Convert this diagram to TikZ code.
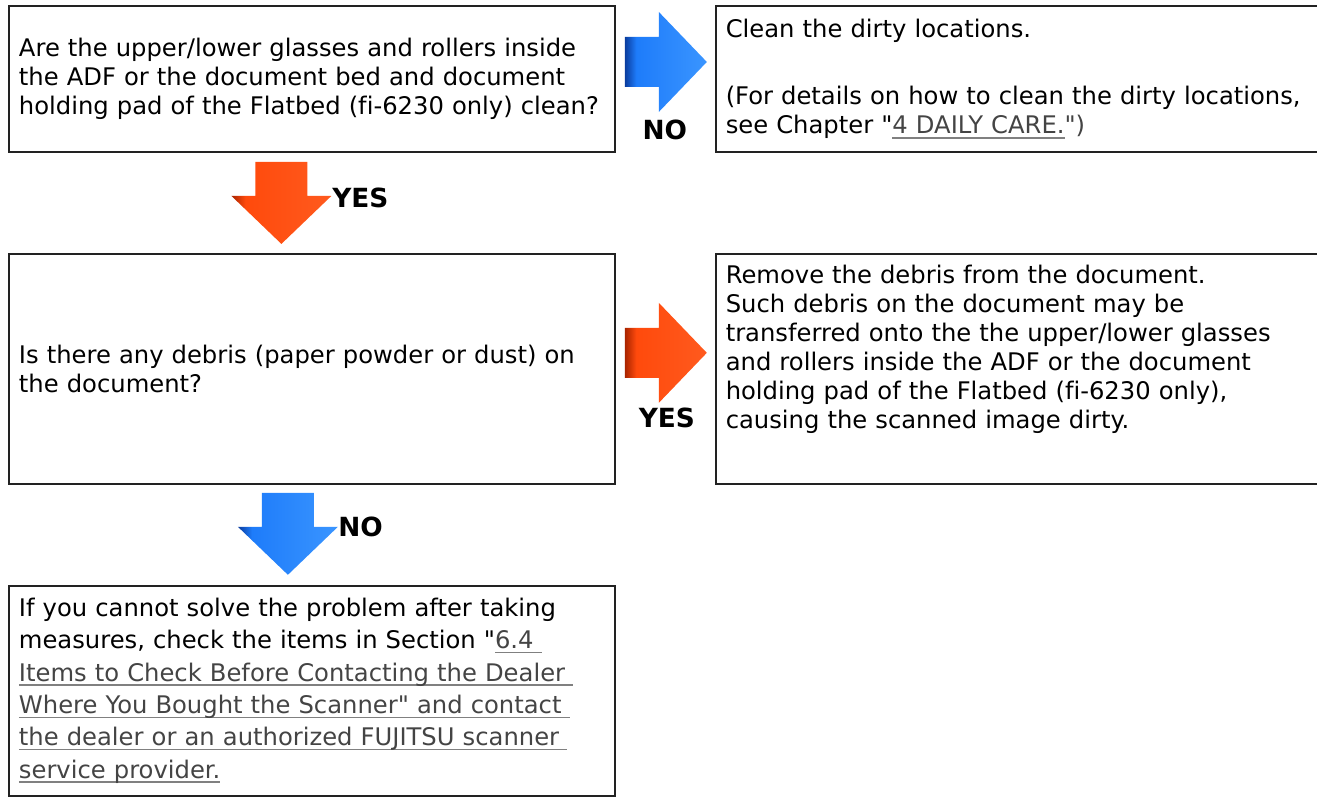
\documentclass[tikz,border=0pt]{standalone}
\usepackage{fontspec}
\setmainfont{DejaVu Sans}[Ligatures=NoCommon]
\usetikzlibrary{positioning,calc}

\definecolor{boxline}{HTML}{222222}
\definecolor{linktext}{HTML}{444444}
\definecolor{linkrule}{HTML}{808080}
\definecolor{bluedark}{HTML}{0A3C9E}
\definecolor{bluemid}{HTML}{1E7CFA}
\definecolor{bluelight}{HTML}{3A95FF}
\definecolor{orgdark}{HTML}{A82400}
\definecolor{orgmid}{HTML}{FF4A0C}
\definecolor{orglight}{HTML}{FF5A1E}

\pgfdeclarehorizontalshading{bluefade}{100bp}{color(0bp)=(bluedark); color(25bp)=(bluedark); color(32bp)=(bluemid); color(75bp)=(bluelight); color(100bp)=(bluelight)}
\pgfdeclarehorizontalshading{orgfade}{100bp}{color(0bp)=(orgdark); color(25bp)=(orgdark); color(32bp)=(orgmid); color(75bp)=(orglight); color(100bp)=(orglight)}

% underlined link text
\newcommand\lnk[1]{\leavevmode\setbox0\hbox{\color{linktext}#1}\rlap{\color{linkrule}\rule[-2.6pt]{\wd0}{0.9pt}}\box0}
\newcommand\qt{\textquotedbl}

% big block arrows (units are px of the picture)
\newcommand\rightarr[2]{\shade[shading=#2,shift={#1}] (0,25) -- (34,25) -- (34,50) -- (82,0) -- (34,-50) -- (34,-25) -- (0,-25) -- cycle;}
\newcommand\downarr[2]{\shade[shading=#2,shift={#1}] (-26,0) -- (26,0) -- (26,-34) -- (50,-34) -- (0,-82) -- (-50,-34) -- (-26,-34) -- cycle;}

\begin{document}
\begin{tikzpicture}[
  x=0.02cm,y=0.02cm,
  node distance=2cm and 1.98cm,
  box/.style={draw=boxline,line width=1.1pt,align=left,inner xsep=0.2cm,inner ysep=0pt,
    font=\fontsize{13.8}{16.5}\selectfont},
  ans/.style={inner sep=0pt,font=\fontsize{15}{18}\selectfont\bfseries}
]
\useasboundingbox (0,0) rectangle (1317,-799);

\node[box,text width=11.72cm,minimum height=2.92cm,anchor=north west] (q1) at (8,-5)
  {Are the upper/lower glasses and rollers inside\\the ADF or the document bed and document\\holding pad of the Flatbed (fi-6230 only) clean?};
\node[box,text width=11.66cm,minimum height=2.92cm,right=of q1] (clean)
  {Clean the dirty locations.\\[22pt](For details on how to clean the dirty locations,\\see Chapter \qt\lnk{4 DAILY CARE.}\qt)};
\node[box,text width=11.72cm,minimum height=4.6cm,below=of q1] (q2)
  {Is there any debris (paper powder or dust) on\\the document?};
\node[box,text width=11.66cm,minimum height=4.6cm,right=of q2] (debris)
  {Remove the debris from the document.\\Such debris on the document may be\\transferred onto the the upper/lower glasses\\and rollers inside the ADF or the document\\holding pad of the Flatbed (fi-6230 only),\\causing the scanned image dirty.\rule[-25pt]{0pt}{1pt}};
\node[box,text width=11.72cm,minimum height=4.2cm,below=of q2,font=\fontsize{13.8}{18.4}\selectfont] (call)
  {If you cannot solve the problem after taking\\measures, check the items in Section \qt\lnk{6.4 }\\\lnk{Items to Check Before Contacting the Dealer }\\\lnk{Where You Bought the Scanner\qt{} and contact }\\\lnk{the dealer or an authorized FUJITSU scanner }\\\lnk{service provider.}};

\rightarr{($(q1.east)+(9,17)$)}{bluefade}
\downarr{($(q1.south)+(-30.5,-9)$)}{orgfade}
\rightarr{($(q2.east)+(9,16)$)}{orgfade}
\downarr{($(q2.south)+(-24,-8)$)}{bluefade}

\node[ans] (no1) at ($(q1.east)+(49,-51)$) {NO};
\node[ans,anchor=west] (yes1) at ($(q1.south)+(20,-45)$) {YES};
\node[ans] (yes2) at ($(q2.east)+(51,-49)$) {YES};
\node[ans,anchor=west] (no2) at ($(q2.south)+(26,-42)$) {NO};
\end{tikzpicture}
\end{document}
